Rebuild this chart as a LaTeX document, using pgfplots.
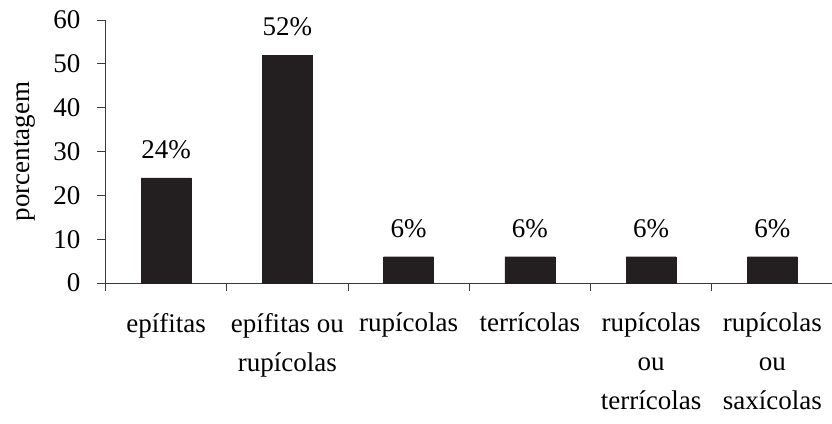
\documentclass[border=0pt]{standalone}
\usepackage{pgfplots}
\pgfplotsset{compat=1.18}
\usepackage{fontspec}
\setmainfont{Liberation Serif}
\definecolor{barc}{HTML}{231F20}
\definecolor{axc}{HTML}{3A3A3A}
\begin{document}
\fontsize{27}{39}\selectfont
\begin{tikzpicture}
\begin{axis}[
  scale only axis, width=727.5pt, height=263pt,
  xmin=-0.5, xmax=5.5, ymin=0, ymax=60,
  axis x line*=bottom, axis y line*=left,
  axis line style={color=axc, line width=1pt},
  ytick={0,10,...,60},
  xtick={0,...,5},
  xticklabels={epífitas, epífitas ou\\rupícolas, rupícolas, terrícolas, rupícolas\\ou\\terrícolas, rupícolas\\ou\\saxícolas},
  minor xtick={-0.5,0.5,...,4.5},
  tick align=outside,
  major tick length=8pt, minor tick length=8pt,
  every tick/.style={color=axc, line width=1pt},
  major x tick style={draw=none},
  /pgf/number format/assume math mode=true,
  tick label style={font=\fontsize{27}{39}\selectfont, color=black},
  xticklabel style={align=center, yshift=-18pt, inner sep=4pt},
  yticklabel style={xshift=-8pt},
  ylabel={porcentagem},
  ylabel style={font=\fontsize{27}{39}\selectfont},
  ybar, bar width=50pt,
  nodes near coords={\pgfmathprintnumber[assume math mode=true]{\pgfplotspointmeta}\%},
  every node near coord/.append style={font=\fontsize{27}{39}\selectfont, color=black, yshift=10pt},
]
\addplot[fill=barc, draw=barc] coordinates {(0,24) (1,52) (2,6) (3,6) (4,6) (5,6)};
\end{axis}
\pgfresetboundingbox
\path[use as bounding box] (-105.5pt,-140pt) rectangle (726.5pt,283pt);
\end{tikzpicture}
\end{document}
